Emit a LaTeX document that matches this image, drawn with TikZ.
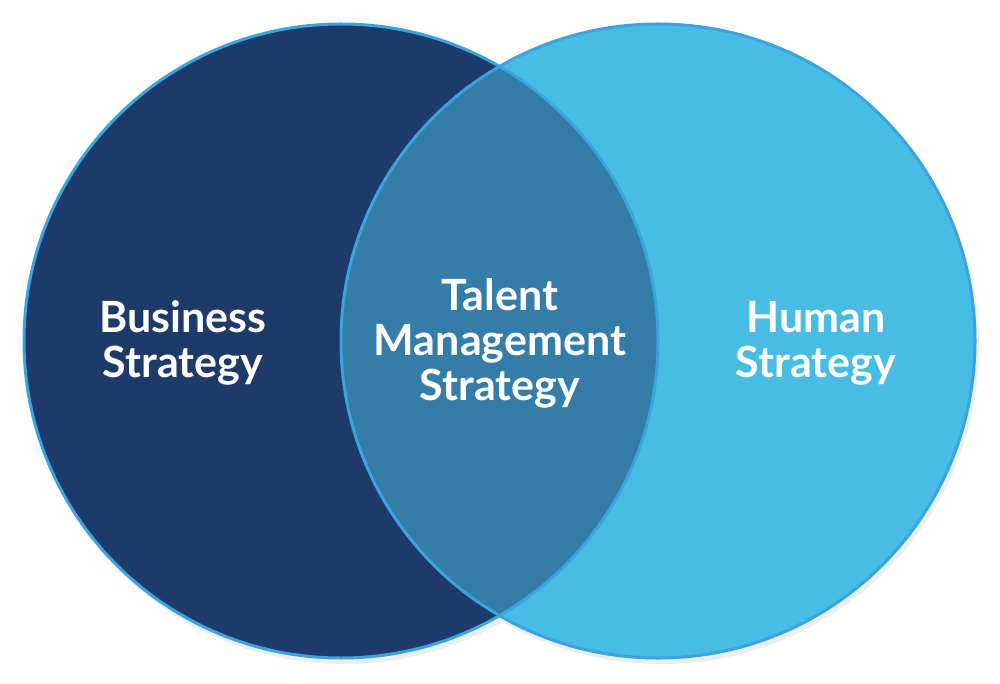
\documentclass[tikz,border=0pt]{standalone}
\usepackage{fontspec}
\setmainfont{Lato}
\definecolor{navy}{HTML}{1E3A6B}
\definecolor{sky}{HTML}{47BDE5}
\definecolor{mixblue}{HTML}{337DA8}
\definecolor{rim}{HTML}{3AA3E0}
\begin{document}
\begin{tikzpicture}[x=0.5pt,y=-0.5pt,
  ring/.style={draw=rim,line width=1.5pt},
  label/.style={text=white,font=\fontsize{21.5}{22.5}\selectfont\bfseries,align=center}]
  \useasboundingbox (0,0) rectangle (1000,684);
  % soft shadow
  \fill[black!7] (344,346) circle (318);
  \fill[black!7] (661,346) circle (318);
  % circles
  \fill[sky] (658,341) circle (317);
  \fill[navy] (341,341) circle (317);
  \begin{scope}
    \clip (341,341) circle (317);
    \fill[mixblue] (658,341) circle (317);
  \end{scope}
  \draw[ring] (658,341) circle (317);
  \draw[ring] (341,341) circle (317);
  % labels
  \node[label] (business) at (183,343) {Business\\Strategy};
  \node[label] (talent) at (500,343) {Talent\\Management\\Strategy};
  \node[label] (human) at (816,343) {Human\\Strategy};
\end{tikzpicture}
\end{document}
